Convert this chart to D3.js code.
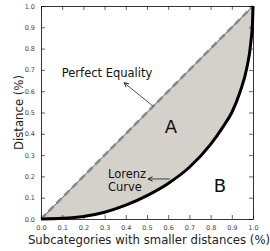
<!DOCTYPE html>
<html>
<head>
<meta charset="utf-8">
<script src="https://cdn.jsdelivr.net/npm/d3@7"></script>
<style>
  body { margin: 0; background: #fff; }
  text { font-family: "DejaVu Sans", sans-serif; }
</style>
</head>
<body>
<script>
// Lorenz curve
const lorenzX = [0, 0.1, 0.2, 0.3, 0.4, 0.5, 0.6, 0.7, 0.8, 0.86, 0.9, 0.94, 0.97, 0.99, 0.998, 1];
const lorenzY = [0, 0.003, 0.012, 0.032, 0.065, 0.11, 0.167, 0.243, 0.35, 0.435, 0.5, 0.6, 0.705, 0.83, 0.93, 1];
const equality = [0, 1];
const ticks = [0, 0.1, 0.2, 0.3, 0.4, 0.5, 0.6, 0.7, 0.8, 0.9, 1.0];

const width = 270;
const height = 251;
const margin = {top: 6, right: 17, bottom: 32, left: 41};

const svg = d3.select('body').append('svg')
    .attr('width', width)
    .attr('height', height);

const x = d3.scaleLinear().domain([0, 1]).range([margin.left, width - margin.right]);
const y = d3.scaleLinear().domain([0, 1]).range([height - margin.bottom, margin.top]);

const curve = lorenzX.map((v, i) => [v, lorenzY[i]]);
const diag = equality.map(v => [v, v]);

const line = d3.line()
    .x(d => x(d[0]))
    .y(d => y(d[1]))
    .curve(d3.curveMonotoneX);
const straight = d3.line().x(d => x(d[0])).y(d => y(d[1]));

// area A between equality line and Lorenz curve
svg.append('path')
    .attr('d', line(curve) + 'L' + x(0) + ',' + y(0) + 'Z')
    .style('fill', '#d4d0ca')
    .style('stroke', 'none');

svg.append('path')
    .attr('d', straight(diag))
    .style('stroke', '#000')
    .style('stroke-width', 0.6)
    .style('fill', 'none');

svg.append('path')
    .attr('d', straight(diag))
    .style('stroke', '#8a8a8a')
    .style('stroke-width', 2.6)
    .style('stroke-dasharray', '7,4')
    .style('fill', 'none');

svg.append('path')
    .attr('d', line(curve))
    .style('stroke', '#000')
    .style('stroke-width', 3)
    .style('stroke-linejoin', 'round')
    .style('fill', 'none');

// axes, ticks inward on all four sides
const fmt = d3.format('.1f');
const axes = [
    {a: d3.axisBottom(x), t: 'translate(0,' + y(0) + ')', labels: true},
    {a: d3.axisLeft(y), t: 'translate(' + x(0) + ',0)', labels: true},
    {a: d3.axisTop(x), t: 'translate(0,' + y(1) + ')', labels: false},
    {a: d3.axisRight(y), t: 'translate(' + x(1) + ',0)', labels: false}
];
axes.forEach(ax => {
    const g = svg.append('g')
        .attr('transform', ax.t)
        .call(ax.a.tickValues(ticks).tickSizeInner(-4).tickSizeOuter(0)
            .tickPadding(6).tickFormat(ax.labels ? fmt : ''));
    g.select('.domain').style('stroke', '#000').style('stroke-width', 0.8);
    g.selectAll('.tick line').style('stroke', '#000').style('stroke-width', 0.6);
    g.selectAll('.tick text')
        .style('font-size', '6.5px')
        .style('fill', '#444');
});

svg.append('text')
    .attr('x', (x(0) + x(1)) / 2 + 2)
    .attr('y', 244)
    .attr('text-anchor', 'middle')
    .style('font-size', '11.7px')
    .style('fill', '#222')
    .text('Subcategories with smaller distances (%)');

svg.append('text')
    .attr('transform', 'translate(23,' + (y(0.5)) + ') rotate(-90)')
    .attr('text-anchor', 'middle')
    .style('font-size', '11.7px')
    .style('fill', '#222')
    .text('Distance (%)');

// annotations
function arrow(x1, y1, x2, y2) {
    const px1 = x(x1), py1 = y(y1), px2 = x(x2), py2 = y(y2);
    svg.append('line')
        .attr('x1', px1).attr('y1', py1).attr('x2', px2).attr('y2', py2)
        .style('stroke', '#222').style('stroke-width', 0.8);
    const ang = Math.atan2(py2 - py1, px2 - px1);
    const len = 5, spread = 0.45;
    const p = [
        [px2 - len * Math.cos(ang - spread), py2 - len * Math.sin(ang - spread)],
        [px2, py2],
        [px2 - len * Math.cos(ang + spread), py2 - len * Math.sin(ang + spread)]
    ];
    svg.append('path')
        .attr('d', d3.line()(p))
        .style('stroke', '#222').style('stroke-width', 1).style('fill', 'none');
}

svg.append('text')
    .attr('x', x(0.098))
    .attr('y', y(0.667))
    .style('font-size', '11.5px')
    .style('fill', '#111')
    .text('Perfect Equality');
arrow(0.528, 0.53, 0.392, 0.64);

svg.append('text')
    .attr('x', x(0.316))
    .attr('y', y(0.192))
    .style('font-size', '11.5px')
    .style('fill', '#111')
    .text('Lorenz');
svg.append('text')
    .attr('x', x(0.316))
    .attr('y', y(0.131))
    .style('font-size', '11.5px')
    .style('fill', '#111')
    .text('Curve');
arrow(0.608, 0.188, 0.505, 0.188);

svg.append('text')
    .attr('x', x(0.613))
    .attr('y', y(0.404))
    .attr('text-anchor', 'middle')
    .style('font-size', '18px')
    .style('fill', '#111')
    .text('A');
svg.append('text')
    .attr('x', x(0.844))
    .attr('y', y(0.127))
    .attr('text-anchor', 'middle')
    .style('font-size', '18px')
    .style('fill', '#111')
    .text('B');
</script>
</body>
</html>
